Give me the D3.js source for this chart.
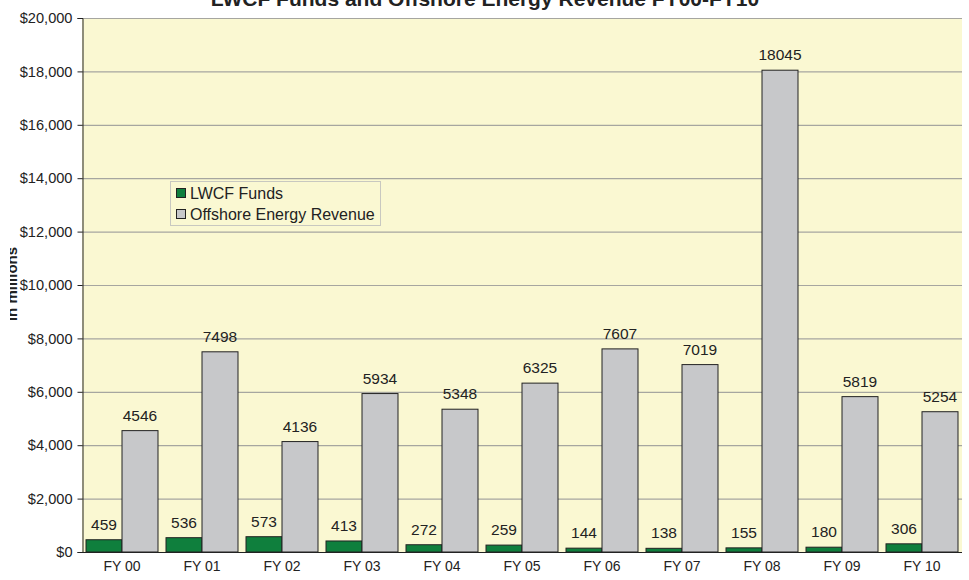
<!DOCTYPE html>
<html>
<head>
<meta charset="utf-8">
<script src="https://cdn.jsdelivr.net/npm/d3@7"></script>
<style>
  body { margin: 0; background: #fff; }
  svg { display: block; font-family: Arial, "Liberation Sans", sans-serif; }
</style>
</head>
<body>
<div id="graph"></div>
<script>
var years = ['FY 00', 'FY 01', 'FY 02', 'FY 03', 'FY 04', 'FY 05', 'FY 06', 'FY 07', 'FY 08', 'FY 09', 'FY 10'];
var lwcf = [459, 536, 573, 413, 272, 259, 144, 138, 155, 180, 306];
var offshore = [4546, 7498, 4136, 5934, 5348, 6325, 7607, 7019, 18045, 5819, 5254];
var seriesNames = ['LWCF Funds', 'Offshore Energy Revenue'];
var yTicks = [0, 2000, 4000, 6000, 8000, 10000, 12000, 14000, 16000, 18000, 20000];

var width = 969, height = 580;
var margin = {top: 18, right: 7, bottom: 28, left: 82};
var colors = ['#0f7f3d', '#c7c8ca'];

var svg = d3.select('#graph').append('svg')
    .attr('width', width)
    .attr('height', height);

var x = d3.scaleBand()
    .domain(years)
    .range([margin.left, width - margin.right])
    .paddingInner(0.1)
    .paddingOuter(0.05);

var x1 = d3.scaleBand()
    .domain([0, 1])
    .range([0, x.bandwidth()]);

var y = d3.scaleLinear()
    .domain([0, 20000])
    .range([height - margin.bottom, margin.top]);

// plot background
svg.append('rect')
    .attr('x', margin.left)
    .attr('y', margin.top)
    .attr('width', width - margin.right - margin.left)
    .attr('height', y(0) - margin.top)
    .attr('fill', '#faf8d2');

// gridlines
svg.append('g')
    .selectAll('line')
    .data(yTicks.slice(1))
  .enter().append('line')
    .attr('x1', margin.left)
    .attr('x2', width - margin.right)
    .attr('y1', function(d) { return y(d) + 0.5; })
    .attr('y2', function(d) { return y(d) + 0.5; })
    .attr('stroke', '#a6a6a0')
    .attr('stroke-width', 1.2);

// y axis
var yAxis = svg.append('g')
    .attr('transform', 'translate(' + (margin.left + 0.5) + ',0)')
    .call(d3.axisLeft(y).tickValues(yTicks).tickSize(5).tickPadding(5)
      .tickFormat(function(d) { return '$' + d3.format(',')(d); }));
yAxis.select('.domain').attr('stroke', '#222');
yAxis.selectAll('.tick line').attr('stroke', '#222');
yAxis.selectAll('text').attr('font-size', 14.6).attr('fill', '#222')
    .attr('font-family', 'Arial, "Liberation Sans", sans-serif');

// x axis baseline
svg.append('line')
    .attr('x1', margin.left)
    .attr('x2', width - margin.right)
    .attr('y1', y(0) + 0.5)
    .attr('y2', y(0) + 0.5)
    .attr('stroke', '#222');

// bars
var rows = years.map(function(yr, i) { return {year: yr, values: [lwcf[i], offshore[i]]}; });

var group = svg.selectAll('.grp')
    .data(rows)
  .enter().append('g')
    .attr('class', 'grp')
    .attr('transform', function(d) { return 'translate(' + x(d.year) + ',0)'; });

var bar = group.selectAll('.bar')
    .data(function(d) { return d.values.map(function(v, k) { return {k: k, v: v}; }); })
  .enter().append('g')
    .attr('class', 'bar');

bar.append('rect')
    .attr('x', function(d) { return x1(d.k); })
    .attr('y', function(d) { return y(d.v); })
    .attr('width', x1.bandwidth())
    .attr('height', function(d) { return y(0) - y(d.v); })
    .attr('fill', function(d) { return colors[d.k]; })
    .attr('stroke', '#222')
    .attr('stroke-width', 1);

bar.append('text')
    .attr('x', function(d) { return x1(d.k) + x1.bandwidth() / 2; })
    .attr('y', function(d) { return y(d.v) - 10; })
    .attr('text-anchor', 'middle')
    .attr('font-size', 15.5)
    .attr('fill', '#222')
    .text(function(d) { return d.v; });

// x labels
svg.append('g')
    .selectAll('text')
    .data(years)
  .enter().append('text')
    .attr('x', function(d) { return x(d) + x.bandwidth() / 2; })
    .attr('y', 571)
    .attr('text-anchor', 'middle')
    .attr('font-size', 14)
    .attr('fill', '#222')
    .text(function(d) { return d; });

// title (cut at the top edge, as in the source)
svg.append('text')
    .attr('x', 485)
    .attr('y', 6)
    .attr('text-anchor', 'middle')
    .attr('font-size', 21)
    .attr('font-weight', 'bold')
    .attr('fill', '#222')
    .text('LWCF Funds and Offshore Energy Revenue FY00-FY10');

// y label, partly hidden
svg.append('clipPath').attr('id', 'ylabclip')
  .append('rect').attr('x', 10).attr('y', 0).attr('width', 20).attr('height', height);
svg.append('g')
    .attr('clip-path', 'url(#ylabclip)')
  .append('text')
    .attr('transform', 'translate(17,284) rotate(-90)')
    .attr('text-anchor', 'middle')
    .attr('font-size', 15)
    .attr('font-weight', 'bold')
    .attr('fill', '#222')
    .text('in millions');

// legend
var legend = svg.append('g').attr('transform', 'translate(170,181)');
legend.append('rect')
    .attr('x', 0.5).attr('y', 0.5)
    .attr('width', 210).attr('height', 44)
    .attr('fill', '#faf8d2')
    .attr('stroke', '#c8c8c0');
var item = legend.selectAll('.item')
    .data(seriesNames)
  .enter().append('g')
    .attr('class', 'item')
    .attr('transform', function(d, i) { return 'translate(6,' + (7 + i * 21) + ')'; });
item.append('rect')
    .attr('width', 9).attr('height', 9)
    .attr('y', 0.5).attr('x', 0.5)
    .attr('fill', function(d, i) { return colors[i]; })
    .attr('stroke', '#222');
item.append('text')
    .attr('x', 14)
    .attr('y', 11)
    .attr('font-size', 16)
    .attr('fill', '#222')
    .text(function(d) { return d; });
</script>
</body>
</html>
